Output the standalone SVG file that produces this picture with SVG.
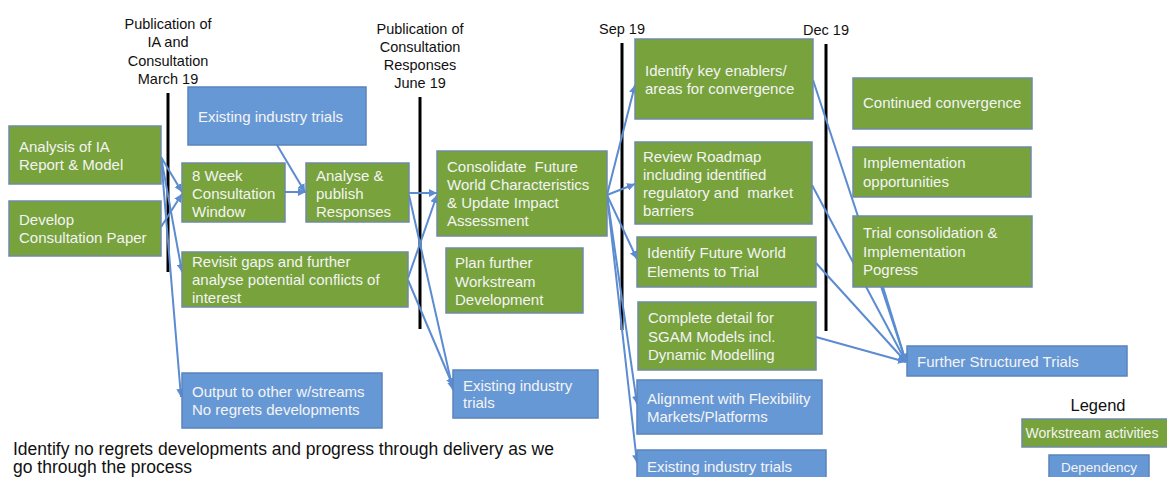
<svg xmlns="http://www.w3.org/2000/svg" width="1167" height="477" viewBox="0 0 1167 477">
<style>
.g{fill:#77a23c;stroke:#6f8aa6;stroke-width:1.5}
.b{fill:#6798d6;stroke:#5a84bd;stroke-width:1.5}
.t{font-family:"Liberation Sans",Arial,sans-serif;font-size:15px;fill:#f4f4f4;white-space:pre}
.k{font-family:"Liberation Sans",Arial,sans-serif;font-size:14.5px;fill:#111}
.c{fill:none;stroke:#5b8bd0;stroke-width:2;marker-end:url(#ah)}
.tl{stroke:#000;stroke-width:3}
</style>
<defs>
<marker id="ah" markerUnits="userSpaceOnUse" markerWidth="9" markerHeight="8" refX="8" refY="4" orient="auto">
<path d="M0,0 L8,4 L0,8 z" fill="#5b8bd0"/>
</marker>
</defs>
<rect width="1167" height="477" fill="#fff"/>
<g id="timeline">
<line class="tl" x1="168" y1="93" x2="168" y2="272"/>
<line class="tl" x1="420" y1="97" x2="420" y2="329"/>
<line class="tl" x1="622" y1="43" x2="622" y2="330"/>
<line class="tl" x1="826" y1="44" x2="826" y2="331"/>
<text class="k" text-anchor="middle"><tspan x="168" y="29">Publication of</tspan><tspan x="168" y="47">IA and</tspan><tspan x="168" y="66">Consultation</tspan><tspan x="168" y="84">March 19</tspan></text>
<text class="k" text-anchor="middle"><tspan x="420" y="34">Publication of</tspan><tspan x="420" y="52">Consultation</tspan><tspan x="420" y="70">Responses</tspan><tspan x="420" y="88">June 19</tspan></text>
<text class="k" text-anchor="middle" x="622" y="34">Sep 19</text>
<text class="k" text-anchor="middle" x="826" y="35">Dec 19</text>
</g>
<g id="connectors">
<path class="c" d="M161,157 L182,192"/>
<path class="c" d="M161,227 L182,194"/>
<path class="c" d="M161,157 L182,272"/>
<path class="c" d="M161,157 L181,397"/>
<path class="c" d="M285,192 L306,192"/>
<path class="c" d="M277,145 L305,192"/>
<path class="c" d="M409,193 L437,193"/>
<path class="c" d="M408,278 L437,195"/>
<path class="c" d="M409,195 L453,390"/>
<path class="c" d="M408,280 L453,386"/>
<path class="c" d="M607,195 L635,85"/>
<path class="c" d="M607,195 L635,184"/>
<path class="c" d="M607,195 L637,259"/>
<path class="c" d="M607,195 L637,404"/>
<path class="c" d="M607,195 L637,463"/>
<path class="c" d="M813,80 L906,362"/>
<path class="c" d="M812,185 L906,362"/>
<path class="c" d="M816,263 L906,362"/>
<path class="c" d="M816,337 L906,362"/>
<path class="c" d="M883,287 L906,362"/>
</g>
<g id="n-analysis"><rect class="g" x="9" y="126" width="152" height="58"/><text class="t"><tspan x="19" y="152">Analysis of IA</tspan><tspan x="19" y="170">Report &amp; Model</tspan></text></g>
<g id="n-develop"><rect class="g" x="9" y="201" width="152" height="55"/><text class="t"><tspan x="19" y="225">Develop</tspan><tspan x="19" y="243">Consultation Paper</tspan></text></g>
<g id="n-8week"><rect class="g" x="182" y="163" width="103" height="59"/><text class="t"><tspan x="192" y="181">8 Week</tspan><tspan x="192" y="199">Consultation</tspan><tspan x="192" y="217">Window</tspan></text></g>
<g id="n-trials1"><rect class="b" x="188" y="87" width="178" height="58"/><text class="t" x="198" y="122">Existing industry trials</text></g>
<g id="n-analyse"><rect class="g" x="306" y="163" width="103" height="59"/><text class="t"><tspan x="316" y="181">Analyse &amp;</tspan><tspan x="316" y="199">publish</tspan><tspan x="316" y="217">Responses</tspan></text></g>
<g id="n-revisit"><rect class="g" x="182" y="252" width="226" height="55"/><text class="t"><tspan x="192" y="267">Revisit gaps and further</tspan><tspan x="192" y="285">analyse potential conflicts of</tspan><tspan x="192" y="303">interest</tspan></text></g>
<g id="n-output"><rect class="b" x="182" y="373" width="200" height="55"/><text class="t"><tspan x="192" y="397">Output to other w/streams</tspan><tspan x="192" y="415">No regrets developments</tspan></text></g>
<g id="n-consolidate"><rect class="g" x="437" y="151" width="170" height="85"/><text class="t"><tspan x="447" y="172">Consolidate  Future</tspan><tspan x="447" y="190">World Characteristics</tspan><tspan x="447" y="208">&amp; Update Impact</tspan><tspan x="447" y="226">Assessment</tspan></text></g>
<g id="n-plan"><rect class="g" x="446" y="248" width="137" height="65"/><text class="t"><tspan x="455" y="268">Plan further</tspan><tspan x="455" y="287">Workstream</tspan><tspan x="455" y="305">Development</tspan></text></g>
<g id="n-trials2"><rect class="b" x="453" y="370" width="145" height="48"/><text class="t"><tspan x="463" y="391">Existing industry</tspan><tspan x="463" y="408">trials</tspan></text></g>
<g id="n-enablers"><rect class="g" x="635" y="39" width="178" height="80"/><text class="t"><tspan x="645" y="76">Identify key enablers/</tspan><tspan x="645" y="94">areas for convergence</tspan></text></g>
<g id="n-roadmap"><rect class="g" x="635" y="142" width="177" height="82"/><text class="t"><tspan x="643" y="162">Review Roadmap</tspan><tspan x="643" y="180">including identified</tspan><tspan x="643" y="198">regulatory and  market</tspan><tspan x="643" y="216">barriers</tspan></text></g>
<g id="n-elements"><rect class="g" x="637" y="237" width="179" height="50"/><text class="t"><tspan x="647" y="258">Identify Future World</tspan><tspan x="647" y="277">Elements to Trial</tspan></text></g>
<g id="n-sgam"><rect class="g" x="638" y="302" width="178" height="68"/><text class="t"><tspan x="648" y="323">Complete detail for</tspan><tspan x="648" y="342">SGAM Models incl.</tspan><tspan x="648" y="360">Dynamic Modelling</tspan></text></g>
<g id="n-alignment"><rect class="b" x="637" y="380" width="185" height="54"/><text class="t"><tspan x="647" y="404">Alignment with Flexibility</tspan><tspan x="647" y="422">Markets/Platforms</tspan></text></g>
<g id="n-trials3"><rect class="b" x="637" y="450" width="189" height="35"/><text class="t" x="647" y="472">Existing industry trials</text></g>
<g id="n-convergence"><rect class="g" x="853" y="78" width="179" height="51"/><text class="t" x="863" y="108">Continued convergence</text></g>
<g id="n-implementation"><rect class="g" x="853" y="147" width="178" height="50"/><text class="t"><tspan x="863" y="168">Implementation</tspan><tspan x="863" y="187">opportunities</tspan></text></g>
<g id="n-trialcons"><rect class="g" x="853" y="216" width="179" height="71"/><text class="t"><tspan x="863" y="238">Trial consolidation &amp;</tspan><tspan x="863" y="257">Implementation</tspan><tspan x="863" y="275">Pogress</tspan></text></g>
<g id="n-further"><rect class="b" x="907" y="346" width="220" height="30"/><text class="t" x="917" y="367">Further Structured Trials</text></g>
<g id="legend">
<text x="1098" y="411" text-anchor="middle" style="font-family:'Liberation Sans',Arial,sans-serif;font-size:16.5px;fill:#111">Legend</text>
<rect class="g" x="1022" y="419" width="150" height="28"/>
<text class="t" x="1092" y="438" text-anchor="middle" style="font-size:14px">Workstream activities</text>
<rect class="b" x="1049" y="455" width="100" height="28"/>
<text class="t" x="1099" y="472" text-anchor="middle" style="font-size:13.5px">Dependency</text>
</g>
<g id="note">
<text style="font-family:'Liberation Sans',Arial,sans-serif;font-size:17.5px;fill:#111"><tspan x="13" y="455">Identify no regrets developments and progress through delivery as we</tspan><tspan x="13" y="473">go through the process</tspan></text>
</g>
</svg>
